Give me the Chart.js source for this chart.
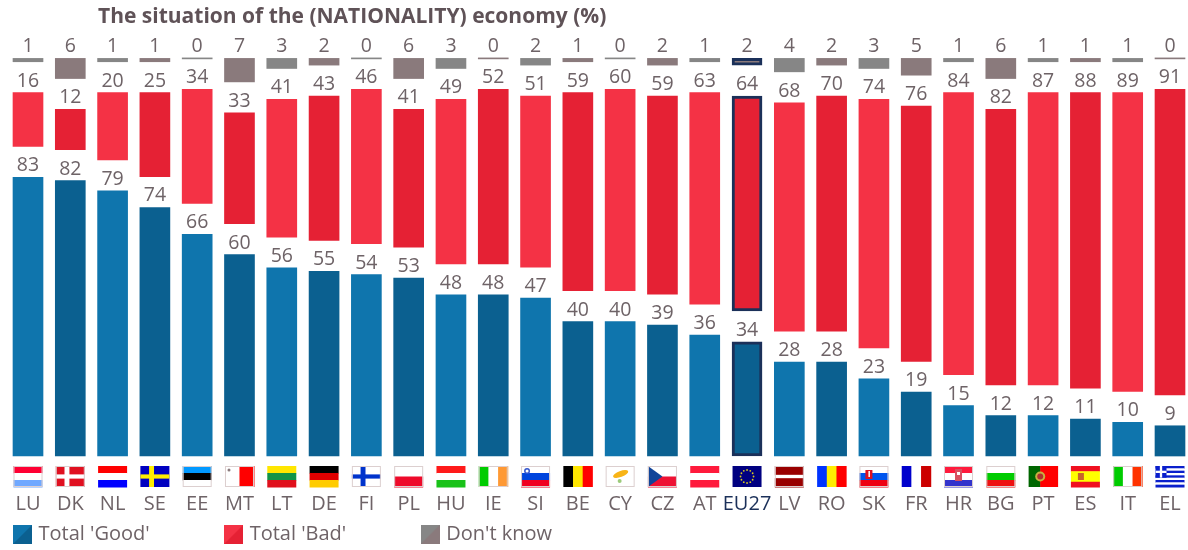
<!DOCTYPE html>
<html><head><meta charset="utf-8">
<script src="https://cdn.jsdelivr.net/npm/chart.js@4/dist/chart.umd.min.js"></script>
<style>html,body{margin:0;padding:0;background:#fff}canvas{display:block}</style>
</head><body><canvas id="c" width="1188" height="550"></canvas>
<script>
const categories=['LU','DK','NL','SE','EE','MT','LT','DE','FI','PL','HU','IE','SI','BE','CY','CZ','AT','EU27','LV','RO','SK','FR','HR','BG','PT','ES','IT','EL'];
const totalGood=[83,82,79,74,66,60,56,55,54,53,48,48,47,40,40,39,36,34,28,28,23,19,15,12,12,11,10,9];
const totalBad=[16,12,20,25,34,33,41,43,46,41,49,52,51,59,60,59,63,64,68,70,74,76,84,82,87,88,89,91];
const dontKnow=[1,6,1,1,0,7,3,2,0,6,3,0,2,1,0,2,1,2,4,2,3,5,1,6,1,1,1,0];
const seriesNames=["Total 'Good'","Total 'Bad'","Don't know"];
const titleText='The situation of the (NATIONALITY) economy (%)';
const GAP=9.2;
const TEXT='#6E6367', NAVY='#1B3059';
const pair=(a,b)=>categories.map((_,i)=>i%2?b:a);
const BLUE=['#0F75AD','#0B6090'],RED=['#F43245','#E52134'],GREY=['#868686','#8A7A7C'];
const FONT='"Open Sans"';

function swatch(c){const k=document.createElement('canvas');k.width=19;k.height=19;const x=k.getContext('2d');
 x.fillStyle=c[0];x.fillRect(0,0,19,19);x.fillStyle=c[1];x.beginPath();x.moveTo(19,0);x.lineTo(19,19);x.lineTo(0,19);x.closePath();x.fill();return k;}
const swatches=[swatch(BLUE),swatch(RED),swatch(GREY)];

function hs(c,x,y,w,h,s,f){const t=f||s.map(()=>1/s.length);let p=y;s.forEach((k,i)=>{c.fillStyle=k;c.fillRect(x,p,w,h*t[i]+.5);p+=h*t[i];});}
function vs(c,x,y,w,h,s,f){const t=f||s.map(()=>1/s.length);let p=x;s.forEach((k,i)=>{c.fillStyle=k;c.fillRect(p,y,w*t[i]+.5,h);p+=w*t[i];});}
function cross(c,x,y,w,h,bg,fg){c.fillStyle=bg;c.fillRect(x,y,w,h);c.fillStyle=fg;c.fillRect(x+w*.3,y,w*.17,h);c.fillRect(x,y+h*.4,w,h*.2);}
function dot(c,x,y,r,k){c.fillStyle=k;c.beginPath();c.arc(x,y,r,0,7);c.fill();}
const flags={
LU:(c,x,y,w,h)=>hs(c,x,y,w,h,['#FF0033','#fff','#6FA8FF']),
DK:(c,x,y,w,h)=>cross(c,x,y,w,h,'#E01020','#fff'),
NL:(c,x,y,w,h)=>hs(c,x,y,w,h,['#FF0000','#fff','#0000FF']),
SE:(c,x,y,w,h)=>cross(c,x,y,w,h,'#0000C0','#FFEE00'),
EE:(c,x,y,w,h)=>hs(c,x,y,w,h,['#0099FF','#000','#fff']),
MT:(c,x,y,w,h)=>{vs(c,x,y,w,h,['#fff','#FF0000']);dot(c,x+4,y+4,1.5,'#8a7a7c');},
LT:(c,x,y,w,h)=>hs(c,x,y,w,h,['#FFE600','#129447','#E0101C']),
DE:(c,x,y,w,h)=>hs(c,x,y,w,h,['#000','#E00000','#FFCC00']),
FI:(c,x,y,w,h)=>cross(c,x,y,w,h,'#fff','#0033CC'),
PL:(c,x,y,w,h)=>hs(c,x,y,w,h,['#fff','#EE0A2A']),
HU:(c,x,y,w,h)=>hs(c,x,y,w,h,['#FF1A1A','#fff','#19C219']),
IE:(c,x,y,w,h)=>vs(c,x,y,w,h,['#00CC00','#fff','#FF9933']),
SI:(c,x,y,w,h)=>{hs(c,x,y,w,h,['#fff','#0044DD','#F00020']);dot(c,x+6,y+5,3,'#3355cc');dot(c,x+6,y+5,1.5,'#fff');},
BE:(c,x,y,w,h)=>vs(c,x,y,w,h,['#000','#FFE600','#FF0000']),
CY:(c,x,y,w,h)=>{c.fillStyle='#fff';c.fillRect(x,y,w,h);c.fillStyle='#F8B417';c.beginPath();c.ellipse(x+15,y+8,8,3,-.35,0,7);c.fill();dot(c,x+14,y+15,2,'#9CCB7A');},
CZ:(c,x,y,w,h)=>{hs(c,x,y,w,h,['#fff','#EE1133']);c.fillStyle='#114499';c.beginPath();c.moveTo(x,y);c.lineTo(x+w*.5,y+h/2);c.lineTo(x,y+h);c.closePath();c.fill();},
AT:(c,x,y,w,h)=>hs(c,x,y,w,h,['#FF1A3C','#fff','#FF1A3C']),
EU27:(c,x,y,w,h)=>{c.fillStyle='#000080';c.fillRect(x,y,w,h);for(let a=0;a<12;a++)dot(c,x+w/2+6.5*Math.cos(a*Math.PI/6),y+h/2+6.5*Math.sin(a*Math.PI/6),.9,'#D8C820');},
LV:(c,x,y,w,h)=>hs(c,x,y,w,h,['#990000','#fff','#990000'],[.42,.16,.42]),
RO:(c,x,y,w,h)=>vs(c,x,y,w,h,['#0033FF','#FFEE00','#FF0000']),
SK:(c,x,y,w,h)=>{hs(c,x,y,w,h,['#fff','#0055EE','#EE0011']);c.fillStyle='#E01020';c.fillRect(x+6,y+4,7,9);c.fillStyle='#fff';c.fillRect(x+9,y+5,1.5,6);},
FR:(c,x,y,w,h)=>vs(c,x,y,w,h,['#0000CC','#fff','#CC0000']),
HR:(c,x,y,w,h)=>{hs(c,x,y,w,h,['#FF1A3C','#fff','#3333CC']);c.fillStyle='#D85060';c.fillRect(x+11,y+3,7,12);c.fillStyle='#fff';c.fillRect(x+13,y+6,3,3);},
BG:(c,x,y,w,h)=>hs(c,x,y,w,h,['#fff','#00CC00','#EE1111']),
PT:(c,x,y,w,h)=>{vs(c,x,y,w,h,['#006600','#FF0000'],[.4,.6]);dot(c,x+w*.4,y+h/2,5,'#C8B040');dot(c,x+w*.4,y+h/2,3,'#B03030');},
ES:(c,x,y,w,h)=>{hs(c,x,y,w,h,['#F01020','#FFFF00','#F01020'],[.25,.5,.25]);c.fillStyle='#C8662A';c.fillRect(x+7,y+7,6,7);},
IT:(c,x,y,w,h)=>vs(c,x,y,w,h,['#00CC00','#fff','#FF3300']),
EL:(c,x,y,w,h)=>{for(let i=0;i<9;i++){c.fillStyle=i%2?'#fff':'#0A1FCC';c.fillRect(x,y+i*h/9,w,h/9+.5);}c.fillStyle='#0A1FCC';c.fillRect(x,y,w*.38,h*5/9);c.fillStyle='#fff';c.fillRect(x+w*.15,y,w*.08,h*5/9);c.fillRect(x,y+h*2/9,w*.38,h/9);}
};
const whiteEdged=['LU','DK','EE','MT','FI','PL','SI','CY','CZ','LV','SK','BG','IT','IE','HR'];

const layoutPlugin={id:'place',
beforeLayout(ch){
 const l=ch.legend;
 if(!l._noSpace){const f=l.fit;l.fit=function(){f.call(this);this.height=0;};l._noSpace=true;}
},
afterLayout(ch){
 const t=ch.titleBlock;t.left=98;t.right=1188;
 const l=ch.legend,p=l.options.labels.padding;
 l.left=16.5-p;l.right=1188;l.width=l.right-l.left;l.top=524.5-p;l.bottom=550;l.height=l.bottom-l.top;
}};
const marksPlugin={id:'marks',afterDraw(ch){
 const c=ch.ctx,xs=ch.scales.x;c.save();
 categories.forEach((k,i)=>{const x=xs.getPixelForValue(i)-14.5;flags[k](c,x,466,29,21);
  if(whiteEdged.includes(k)){c.strokeStyle='#DCCFCF';c.lineWidth=1;c.strokeRect(x+.5,466.5,28,20);}});
 c.font='19.5px '+FONT;c.fillStyle=TEXT;c.textAlign='center';c.textBaseline='alphabetic';
 [[0,totalGood],[2,totalBad],[4,dontKnow]].forEach(([d,vals])=>{const m=ch.getDatasetMeta(d);
  vals.forEach((v,i)=>{const b=m.data[i];c.fillText(String(v),b.x,Math.min(b.y,b.base)-6);});});
 c.restore();
}};
const gapArr=categories.map(()=>GAP);
const bw=categories.map((k)=>k==='EU27'?3:0);
const bc=categories.map((k)=>k==='EU27'?NAVY:'rgba(0,0,0,0)');
const common={stack:'s',barThickness:30,borderSkipped:false,borderWidth:bw,borderColor:bc,clip:false};
const gapSet=()=>({label:'gap',data:gapArr,stack:'s',barThickness:30,backgroundColor:'rgba(0,0,0,0)',borderWidth:0,clip:false});
new Chart(document.getElementById('c'),{
 type:'bar',
 data:{labels:categories,datasets:[
  {label:seriesNames[0],data:totalGood,backgroundColor:pair(...BLUE),...common},
  gapSet(),
  {label:seriesNames[1],data:totalBad,backgroundColor:pair(...RED),...common},
  gapSet(),
  {label:seriesNames[2],data:dontKnow,backgroundColor:pair(...GREY),minBarLength:1,...common}
 ]},
 plugins:[layoutPlugin,marksPlugin],
 options:{responsive:false,animation:false,devicePixelRatio:1,
  layout:{padding:{left:28,right:18,top:0,bottom:0}},
  plugins:{
   tooltip:{enabled:false},
   title:{display:true,text:titleText,align:'start',color:'#5F5257',font:{family:FONT,size:21,weight:'bold'},padding:{top:4,bottom:3}},
   legend:{position:'bottom',align:'start',labels:{
     padding:78,usePointStyle:true,pointStyleWidth:12,color:TEXT,font:{family:FONT,size:20},
     generateLabels:()=>seriesNames.map((n,i)=>({text:n,pointStyle:swatches[i],fontColor:TEXT,lineWidth:0,strokeStyle:'transparent',fillStyle:'transparent',datasetIndex:i*2}))
   }}
  },
  scales:{
   x:{stacked:true,offset:false,grid:{display:false},border:{display:false},
      afterFit(s){s.height=94;s.paddingLeft=0;s.paddingRight=0;},
      ticks:{autoSkip:false,maxRotation:0,minRotation:0,padding:28,font:{family:FONT,size:20},
             color:(ctx)=>categories[ctx.index]==='EU27'?NAVY:TEXT}},
   y:{stacked:true,display:false,min:0,max:126.2,grid:{display:false}}
  }
 }
});
</script></body></html>
